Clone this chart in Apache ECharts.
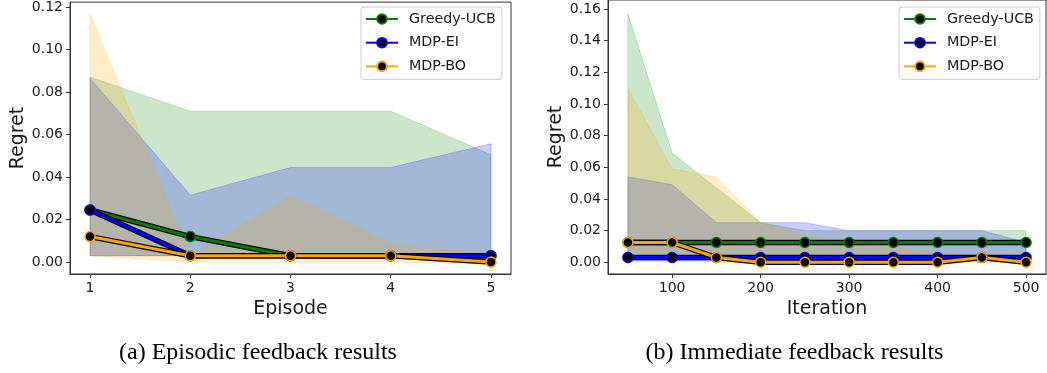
<!DOCTYPE html>
<html>
<head>
<meta charset="utf-8">
<script src="https://cdn.jsdelivr.net/npm/echarts@6/dist/echarts.min.js"></script>
<style>
html,body{margin:0;padding:0;background:#fff;}
#chart{width:1047px;height:373px;}
</style>
</head>
<body>
<div id="chart"></div>
<script>
// ---------- data ----------
const methodNames = ['Greedy-UCB', 'MDP-EI', 'MDP-BO'];

// (a) Episodic feedback
const episodes = [1, 2, 3, 4, 5];
const epUcbMean = [0.0245, 0.012, 0.003, 0.003, 0.003];
const epUcbLow  = [0.003, 0.003, 0.003, 0.003, 0.003];
const epUcbHigh = [0.087, 0.071, 0.071, 0.071, 0.0505];
const epEiMean  = [0.0245, 0.003, 0.003, 0.003, 0.003];
const epEiLow   = [0.003, 0.003, 0.003, 0.003, 0.003];
const epEiHigh  = [0.0865, 0.0315, 0.0445, 0.0445, 0.0557];
const epBoMean  = [0.012, 0.003, 0.003, 0.003, 0.0];
const epBoLow   = [0.003, 0.0, 0.0, 0.0, -0.001];
const epBoHigh  = [0.1165, 0.003, 0.0313, 0.0088, 0.004];
const epXTicks  = [1, 2, 3, 4, 5];
const epYTicks  = [0, 0.02, 0.04, 0.06, 0.08, 0.10, 0.12];

// (b) Immediate feedback
const iterations = [50, 100, 150, 200, 250, 300, 350, 400, 450, 500];
const itUcbMean = [0.0125, 0.0125, 0.0125, 0.0125, 0.0125, 0.0125, 0.0125, 0.0125, 0.0125, 0.0125];
const itUcbLow  = [0.003, 0.003, 0.003, 0.003, 0.003, 0.003, 0.003, 0.003, 0.003, 0.003];
const itUcbHigh = [0.157, 0.069, 0.047, 0.025, 0.020, 0.020, 0.020, 0.020, 0.020, 0.020];
const itEiMean  = [0.003, 0.003, 0.003, 0.003, 0.003, 0.003, 0.003, 0.003, 0.003, 0.003];
const itEiLow   = [0.0008, 0.0008, 0.0008, 0.0008, 0.0008, 0.0008, 0.0008, 0.0008, 0.0008, 0.0008];
const itEiHigh  = [0.054, 0.049, 0.025, 0.025, 0.025, 0.020, 0.020, 0.020, 0.020, 0.0125];
const itBoMean  = [0.0125, 0.0125, 0.003, 0.0, 0.0, 0.0, 0.0, 0.0, 0.003, 0.0];
const itBoLow   = [0.003, 0.003, 0.0, -0.001, -0.001, -0.001, -0.001, -0.001, 0.0, -0.001];
const itBoHigh  = [0.110, 0.059, 0.054, 0.025, 0.017, 0.0125, 0.009, 0.0065, 0.004, 0.002];
const itXTicks  = [100, 200, 300, 400, 500];
const itYTicks  = [0, 0.02, 0.04, 0.06, 0.08, 0.10, 0.12, 0.14, 0.16];

const captions = ['(a) Episodic feedback results', '(b) Immediate feedback results'];

// ---------- styling ----------
const colors = ['#008000', '#0000ff', '#ffa500'];
const fills  = ['rgba(0,128,0,0.2)', 'rgba(0,0,255,0.2)', 'rgba(255,165,0,0.2)'];
const FONT = 'DejaVu Sans';
const TXT = '#1a1a1a';

function zip(xs, ys) { return xs.map((x, i) => [x, ys[i]]); }

function bandSeries(gi, xs, low, high, k) {
  return {
    type: 'custom', xAxisIndex: gi, yAxisIndex: gi, silent: true, clip: true,
    z: 1,
    data: [[xs[0], low[0]]],
    encode: { x: 0, y: 1 },
    renderItem: function (params, api) {
      const pts = [];
      for (let i = 0; i < xs.length; i++) pts.push(api.coord([xs[i], high[i]]));
      for (let i = xs.length - 1; i >= 0; i--) pts.push(api.coord([xs[i], low[i]]));
      return { type: 'polygon', shape: { points: pts },
        style: { fill: fills[k], stroke: fills[k], lineWidth: 1 } };
    }
  };
}

function lineSeries(gi, xs, mean, k) {
  return [
    { type: 'line', name: '_outline' + k, xAxisIndex: gi, yAxisIndex: gi, silent: true,
      data: zip(xs, mean), symbol: 'none', z: 3,
      lineStyle: { color: '#000', width: 5.5 } },
    { type: 'line', name: methodNames[k], xAxisIndex: gi, yAxisIndex: gi,
      data: zip(xs, mean), symbol: 'circle', symbolSize: 10, showAllSymbol: true, z: 3,
      lineStyle: { color: colors[k], width: 3 },
      itemStyle: { color: '#000', borderColor: colors[k], borderWidth: 1.5 } }
  ];
}

function valueXAxis(gi, min, max, ticks, name) {
  return {
    type: 'value', gridIndex: gi, min: min, max: max,
    name: name, nameLocation: 'middle', nameGap: 25,
    nameTextStyle: { fontFamily: FONT, fontSize: 19, color: TXT },
    axisLine: { show: true, onZero: false, lineStyle: { color: '#333', width: 1 } },
    axisTick: { show: true, length: 4, inside: false, customValues: ticks, lineStyle: { color: '#333' } },
    axisLabel: { customValues: ticks, margin: 7, fontFamily: FONT, fontSize: 14, color: TXT,
      formatter: v => String(v) },
    splitLine: { show: false }
  };
}

function valueYAxis(gi, min, max, ticks, gap) {
  return {
    type: 'value', gridIndex: gi, min: min, max: max,
    name: 'Regret', nameLocation: 'middle', nameGap: gap, nameRotate: 90,
    nameTextStyle: { fontFamily: FONT, fontSize: 19, color: TXT },
    axisLine: { show: true, onZero: false, lineStyle: { color: '#333', width: 1 } },
    axisTick: { show: true, length: 4, inside: false, customValues: ticks, lineStyle: { color: '#333' } },
    axisLabel: { customValues: ticks, margin: 7, fontFamily: FONT, fontSize: 14, color: TXT,
      formatter: v => v.toFixed(2) },
    splitLine: { show: false }
  };
}

function legend(left) {
  return {
    orient: 'vertical', left: left, top: 7,
    data: methodNames,
    itemWidth: 32, itemHeight: 12, itemGap: 9.7,
    padding: [5, 6, 6, 4],
    backgroundColor: 'rgba(255,255,255,0.8)',
    borderColor: '#cccccc', borderWidth: 1, borderRadius: 3,
    textStyle: { fontFamily: FONT, fontSize: 14.3, color: TXT, padding: [0, 0, 0, 6] },
    selectedMode: false
  };
}

const series = [];
// fills first
series.push(bandSeries(0, episodes, epUcbLow, epUcbHigh, 0));
series.push(bandSeries(0, episodes, epEiLow, epEiHigh, 1));
series.push(bandSeries(0, episodes, epBoLow, epBoHigh, 2));
series.push(bandSeries(1, iterations, itUcbLow, itUcbHigh, 0));
series.push(bandSeries(1, iterations, itEiLow, itEiHigh, 1));
series.push(bandSeries(1, iterations, itBoLow, itBoHigh, 2));
// lines
series.push(...lineSeries(0, episodes, epUcbMean, 0));
series.push(...lineSeries(0, episodes, epEiMean, 1));
series.push(...lineSeries(0, episodes, epBoMean, 2));
series.push(...lineSeries(1, iterations, itUcbMean, 0));
series.push(...lineSeries(1, iterations, itEiMean, 1));
series.push(...lineSeries(1, iterations, itBoMean, 2));

const option = {
  animation: false,
  backgroundColor: '#ffffff',
  grid: [
    { left: 70, top: 0, width: 441, height: 274, show: true, borderColor: '#333', borderWidth: 1, backgroundColor: 'transparent', containLabel: false },
    { left: 608, top: 0, width: 438, height: 274, show: true, borderColor: '#333', borderWidth: 1, backgroundColor: 'transparent', containLabel: false }
  ],
  xAxis: [
    valueXAxis(0, 0.8, 5.2, epXTicks, 'Episode'),
    valueXAxis(1, 27.5, 522.5, itXTicks, 'Iteration')
  ],
  yAxis: [
    valueYAxis(0, -0.0056, 0.1223, epYTicks, 41),
    valueYAxis(1, -0.0074, 0.1657, itYTicks, 42)
  ],
  legend: [legend(361), legend(899)],
  graphic: [
    { type: 'text', x: 258, y: 353, style: { text: captions[0], fontFamily: 'Liberation Serif', fontSize: 24, fill: '#000', textAlign: 'center', textVerticalAlign: 'middle' } },
    { type: 'text', x: 794.5, y: 353, style: { text: captions[1], fontFamily: 'Liberation Serif', fontSize: 24, fill: '#000', textAlign: 'center', textVerticalAlign: 'middle' } }
  ],
  series: series
};

const chart = echarts.init(document.getElementById('chart'), null, { renderer: 'canvas' });
chart.setOption(option);
</script>
</body>
</html>
